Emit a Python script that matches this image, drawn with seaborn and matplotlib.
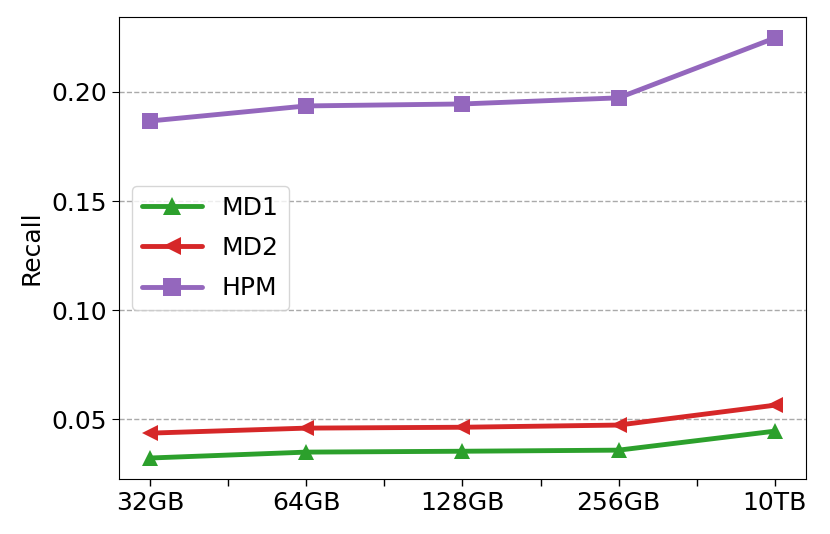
import numpy as np
import pandas as pd
import matplotlib
matplotlib.use("Agg")
import matplotlib.pyplot as plt
import seaborn as sns

sizes = ["32GB", "64GB", "128GB", "256GB", "10TB"]
md1 = [0.0322, 0.0349, 0.0353, 0.0358, 0.0445]
md2 = [0.0436, 0.0459, 0.0463, 0.0473, 0.0564]
hpm = [0.1867, 0.1936, 0.1945, 0.1973, 0.2247]

series = {"MD1": md1, "MD2": md2, "HPM": hpm}
colors = {"MD1": "#2ca02c", "MD2": "#d62728", "HPM": "#9467bd"}
markers = {"MD1": "^", "MD2": "<", "HPM": "s"}

sns.set_style("ticks")
plt.rcParams["font.family"] = ["DejaVu Sans"]
plt.rcParams.update({"text.color": "black", "axes.labelcolor": "black",
                     "xtick.color": "black", "ytick.color": "black"})

fig, ax = plt.subplots(figsize=(8.3, 5.34), dpi=100)
fig.subplots_adjust(left=0.1434, right=0.971, top=0.968, bottom=0.103)

pos = np.arange(len(sizes))
for name, vals in series.items():
    sns.lineplot(x=pos, y=vals, ax=ax, color=colors[name], marker=markers[name],
                 markersize=12, markeredgewidth=0, linewidth=3.5, label=name)

ax.set_xticks(pos)
ax.set_xticklabels(sizes, fontsize=18)
ax.set_xticks(pos[:-1] + 0.5, minor=True)
ax.tick_params(axis="x", which="both", length=5, width=1)
ax.set_yticks([0.05, 0.10, 0.15, 0.20])
ax.set_yticklabels(["0.05", "0.10", "0.15", "0.20"], fontsize=18)
ax.tick_params(axis="y", length=5)
ax.set_ylabel("Recall", fontsize=18, labelpad=6)
ax.yaxis.grid(True, linestyle="--", color="#aaaaaa", linewidth=1)
ax.xaxis.grid(False)
for s in ax.spines.values():
    s.set_visible(True)
    s.set_color("black")

ax.legend(loc="center left", fontsize=18, frameon=True, borderaxespad=0.5,
          handlelength=2.4, labelspacing=0.65, markerscale=1.1)

fig.savefig("out.png", dpi=100)
